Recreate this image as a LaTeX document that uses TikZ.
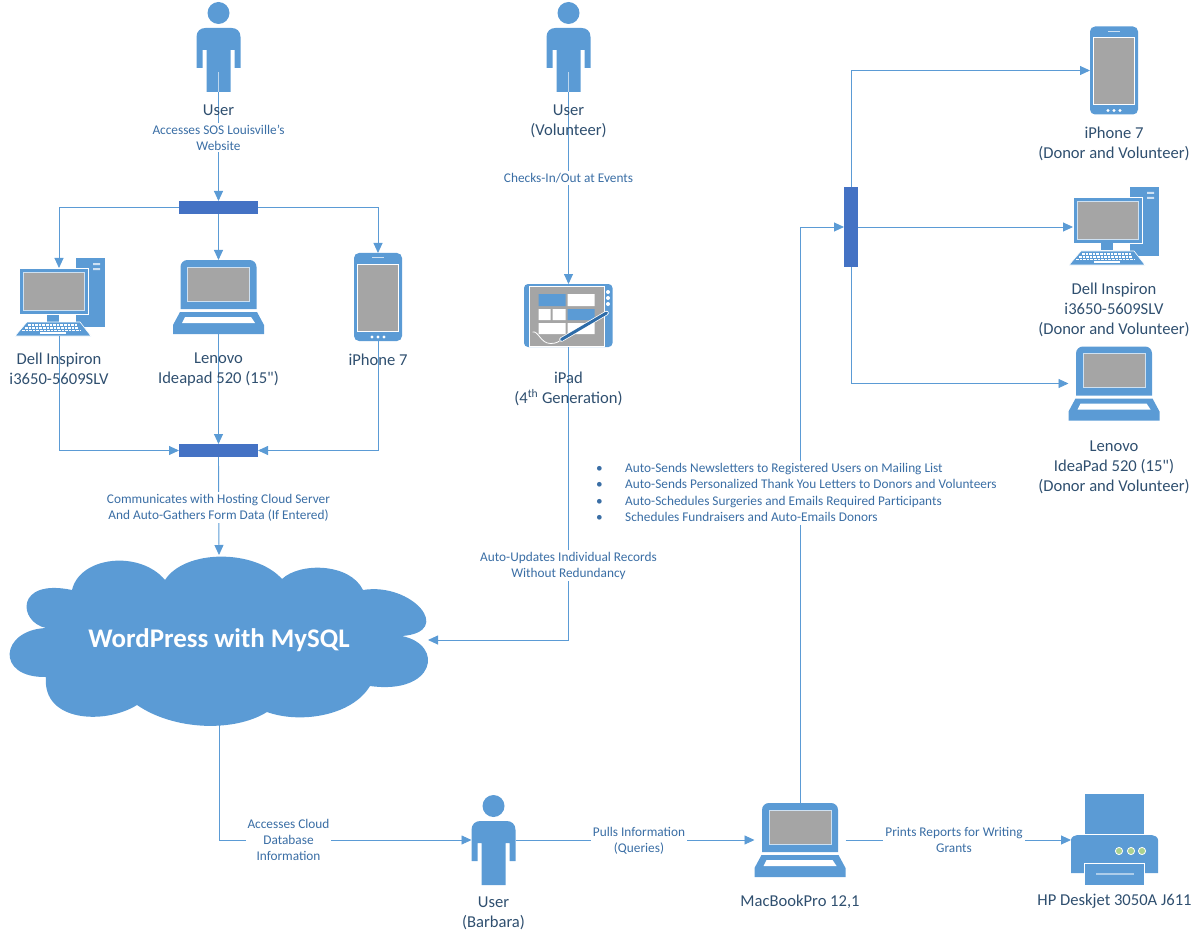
\documentclass[tikz,border=0pt]{standalone}
\usepackage{fontspec}
\setmainfont{Carlito}[Ligatures=TeXOff]
\usetikzlibrary{arrows.meta}

\definecolor{iconblue}{HTML}{5B9BD5}
\definecolor{barblue}{HTML}{4472C4}
\definecolor{screengrey}{HTML}{A5A5A5}
\definecolor{penblue}{HTML}{2E6CA8}
\definecolor{lampgreen}{HTML}{A9D18E}
\definecolor{namecol}{HTML}{2F4F6F}
\definecolor{notecol}{HTML}{3A6EA5}

\tikzset{
  flow/.style={draw=iconblue, line width=0.9pt, -{Triangle[length=10pt,width=9pt]}},
  legline/.style={draw=white!60!iconblue, line width=1pt},
  barnode/.style={fill=barblue, inner sep=0pt, outer sep=0pt},
  iconbox/.style={inner sep=0pt, outer sep=0pt},
  namelabel/.style={text=namecol, align=center, inner sep=0pt, font=\fontsize{16.6}{20}\selectfont},
  notelabel/.style={text=notecol, fill=white, align=center, inner sep=2pt, font=\fontsize{13.3}{16}\selectfont},
  pics/user/.style={code={
    \fill[iconblue] (0,-34) circle (11);
    \fill[iconblue] (-22,-10) .. controls (-22,-16) and (-18,-19) .. (-13,-19) -- (13,-19)
      .. controls (18,-19) and (22,-16) .. (22,-10) -- (22,21) -- (16,21) -- (16,3) -- (12,3)
      -- (12,45) -- (-12,45) -- (-12,3) -- (-16,3) -- (-16,21) -- (-22,21) -- cycle;
  }},
  pics/desktop/.style={code={
    \fill[iconblue] (17,-44) rectangle (46,25);
    \fill[white!70!iconblue] (34,-39) rectangle (41,-37) (34,-34) rectangle (41,-32);
    \filldraw[fill=iconblue, draw=white, line width=0.8pt] (-40,-34) rectangle (29,12);
    \filldraw[fill=screengrey, draw=white!70!iconblue, line width=0.8pt] (-36,-30) rectangle (25,8);
    \fill[iconblue] (-12,12.5) rectangle (0,19.5);
    \filldraw[fill=iconblue, draw=white, line width=0.6pt] (-32,20) -- (21,20) -- (32,34) -- (-44,34) -- cycle;
    \draw[white, line width=1.5pt, dash pattern=on 2.6pt off 1pt] (-31,23) -- (18,23) (-34,26) -- (20,26) (-37,28.5) -- (22,28.5);
    \fill[white] (-19,30) rectangle (6.5,32);
  }},
  pics/laptop/.style={code={
    \fill[iconblue] (-38,12) -- (-38,-30) .. controls (-38,-34) and (-35,-37) .. (-31,-37) -- (31,-37)
      .. controls (35,-37) and (38,-34) .. (38,-30) -- (38,12) -- cycle;
    \filldraw[fill=screengrey, draw=white!70!iconblue, line width=0.8pt] (-31,-30) rectangle (31,4);
    \fill[iconblue] (-38.5,15) -- (38.5,15) -- (45.5,28) -- (45.5,37) -- (-45.5,37) -- (-45.5,28) -- cycle;
    \fill[white] (-33.5,20) -- (32.5,20) -- (36.5,26) -- (-36.5,26) -- cycle;
  }},
  pics/phone/.style={code={
    \fill[iconblue, rounded corners=5pt] (-24,-44) rectangle (24,44);
    \filldraw[fill=screengrey, draw=white, line width=0.8pt] (-20.5,-33) rectangle (20.5,34);
    \draw[white!70!iconblue, line width=1pt] (-6,-39) -- (6,-39);
    \foreach \cx in {-6,0,6} {
      \fill[white] (\cx,40) circle (1.7);
    }
  }},
  pics/tablet/.style={code={
    \fill[iconblue, rounded corners=4pt] (-44.5,-31.5) rectangle (44,31.5);
    \filldraw[fill=screengrey, draw=white, line width=0.8pt] (-39,-29.5) rectangle (36,30.5);
    \fill[iconblue] (-30,-21.5) rectangle (-3,-9.5) (-1,-6.5) rectangle (26,4.5);
    \fill[white] (-1,-21.5) rectangle (26,-9.5)
      (-30,-6.5) rectangle (-18,4.5) (-16,-6.5) rectangle (-3,4.5)
      (-30,7.5) rectangle (-3,18.5) (-1,7.5) rectangle (26,18.5);
    \draw[white, line width=0.8pt] (-36,16.5) .. controls (-30,15) and (-28,28) .. (-18,28) .. controls (-12,28) and (-10,26) .. (-9,25.5);
    \draw[white, line width=4.5pt, line cap=round] (38,-2.5) -- (-7,24);
    \draw[penblue, line width=3pt, line cap=round] (38,-2.5) -- (-7,24);
    \foreach \cy in {-23.5,-17.5,-11.5} {
      \fill[white] (39.5,\cy) circle (2);
    }
  }},
  pics/printer/.style={code={
    \fill[iconblue] (-29.5,-46) rectangle (29.5,-6);
    \fill[iconblue] (-43.5,33) -- (-43.5,-0) .. controls (-43.5,-3) and (-40,-5) .. (-37,-5) -- (37,-5)
      .. controls (40,-5) and (43.5,-3) .. (43.5,0) -- (43.5,33) -- cycle;
    \filldraw[fill=iconblue, draw=white, line width=0.8pt] (-30.5,23) rectangle (29.5,45.5);
    \draw[white!50!iconblue, line width=1.2pt] (-18.5,34) -- (19.5,34);
    \foreach \cx in {4.5,16.5,27.5} {
      \filldraw[fill=lampgreen, draw=white, line width=0.8pt] (\cx,11) circle (3.6);
    }
  }}
}

\begin{document}
\begin{tikzpicture}[x=1pt, y=-1pt]

  \useasboundingbox (0,0) rectangle (1201,941);

  %%-- CLOUD OUTLINE --%%
  \fill[iconblue] (72,590) .. controls (80,556) and (140,550) .. (165,580)
    .. controls (185,549) and (255,549) .. (282,579)
    .. controls (300,562) and (350,563) .. (363,590)
    .. controls (412,582) and (455,632) .. (402,636)
    .. controls (445,645) and (435,695) .. (370,686)
    .. controls (352,716) and (300,724) .. (267,712)
    .. controls (235,732) and (175,731) .. (137,705)
    .. controls (105,725) and (42,722) .. (46,677)
    .. controls (-5,678) and (0,630) .. (46,628)
    .. controls (18,622) and (15,578) .. (72,590) -- cycle;
  \node[inner sep=0pt, outer sep=0pt, minimum width=418pt, minimum height=170pt, text=white,
    font=\fontsize{26.9}{30}\selectfont\bfseries] (cloud) at (219,640) {\raisebox{-2pt}{WordPress with MySQL}};

  %%-- DISTRIBUTION BARS --%%
  \node[barnode, minimum width=79pt, minimum height=13pt] (bartop) at (218.5,207.5) {};
  \node[barnode, minimum width=79pt, minimum height=13pt] (barlow) at (218.5,450.5) {};
  \node[barnode, minimum width=14pt, minimum height=80pt] (barright) at (851,227) {};

  %%-- ICON BOXES (pics go on top of them) --%%
  \node[iconbox, minimum width=44pt, minimum height=90pt] (user1) at (218.5,47) {};
  \node[iconbox, minimum width=44pt, minimum height=90pt] (user2) at (568.5,47) {};
  \node[iconbox, minimum width=44pt, minimum height=90pt] (user3) at (493.5,840) {};
  \node[iconbox, minimum width=80pt, minimum height=68pt] (desk1) at (59,302) {};
  \node[iconbox, minimum width=80pt, minimum height=68pt] (desk2) at (1113,231) {};
  \node[iconbox, minimum width=91pt, minimum height=74pt] (lap1) at (218.5,297) {};
  \node[iconbox, minimum width=91pt, minimum height=74pt] (lap2) at (1114,383.5) {};
  \node[iconbox, minimum width=91pt, minimum height=74pt] (mac) at (800,840) {};
  \node[iconbox, minimum width=48pt, minimum height=88pt] (phone1) at (378,297) {};
  \node[iconbox, minimum width=48pt, minimum height=88pt] (phone2) at (1114,70.5) {};
  \node[iconbox, minimum width=88pt, minimum height=63pt] (ipad) at (568.5,315.5) {};
  \node[iconbox, minimum width=87pt, minimum height=90pt] (printer) at (1114.5,840) {};

  \pic at (user1) {user};
  \pic at (user2) {user};
  \pic at (user3) {user};
  \pic at (desk1) {desktop};
  \pic at (desk2) {desktop};
  \pic at (lap1) {laptop};
  \pic at (lap2) {laptop};
  \pic at (mac) {laptop};
  \pic at (phone1) {phone};
  \pic at (phone2) {phone};
  \pic at (ipad) {tablet};
  \pic at (printer) {printer};

  %%-- CONNECTORS --%%
  \coordinate (foot1) at (218.5,72);
  \coordinate (foot2) at (568.5,72);
  \draw[legline] (foot1) -- (user1.south);
  \draw[legline] (foot2) -- (user2.south);
  \draw[flow] (user1.south) -- (bartop.north);
  \draw[flow] (user2.south) -- (ipad.north);

  \draw[flow] (bartop.west) -| (desk1.north);
  \draw[flow] (bartop.south) -- (lap1.north);
  \draw[flow] (bartop.east) -| (phone1.north);

  \draw[flow] (desk1.south) |- (barlow.west);
  \draw[flow] (lap1.south) -- (barlow.north);
  \draw[flow] (phone1.south) |- (barlow.east);

  \draw[flow] (barlow.south) -- (cloud.north);
  \draw[flow] (ipad.south) |- (cloud.east);
  \draw[flow] (cloud.south) |- (user3.west);
  \draw[flow] (user3.east) -- (mac.west);
  \draw[flow] (mac.east) -- (printer.west);
  \draw[flow] (mac.north) |- (barright.west);

  \draw[flow] (barright.north) |- (phone2.west);
  \draw[flow] (barright.east) -- (barright.east -| desk2.west);
  \draw[flow] (barright.south) |- (lap2.west);

  %%-- NAME LABELS --%%
  \node[namelabel] (nuser1) at (218.5,110.5) {User};
  \node[namelabel] (nuser2) at (568.5,121.5) {User\\(Volunteer)};
  \node[namelabel] (nuser3) at (493.5,913) {User\\(Barbara)};
  \node[namelabel] (ndesk1) at (59,369) {Dell Inspiron\\i3650-5609SLV};
  \node[namelabel] (nlap1) at (218.5,370) {Lenovo\\Ideapad 520 (15")};
  \node[namelabel] (nphone1) at (378,359.5) {iPhone 7};
  \node[namelabel] (nipad) at (568.5,389) {iPad\\(4\textsuperscript{th} Generation)};
  \node[namelabel] (nphone2) at (1114,144) {iPhone 7\\(Donor and Volunteer)};
  \node[namelabel] (ndesk2) at (1114,310) {Dell Inspiron\\i3650-5609SLV\\(Donor and Volunteer)};
  \node[namelabel] (nlap2) at (1114,467) {Lenovo\\IdeaPad 520 (15")\\(Donor and Volunteer)};
  \node[namelabel] (nmac) at (800,901.5) {MacBookPro 12,1};
  \node[namelabel] (nprinter) at (1114.5,901.5) {HP Deskjet 3050A J611};

  %%-- CONNECTOR NOTES --%%
  \node[notelabel] (naccess) at (218.5,137.5) {Accesses SOS Louisville’s\\Website};
  \node[notelabel] (ncheck) at (568.5,178) {Checks-In/Out at Events};
  \node[notelabel] (nhost) at (218.5,507.5) {Communicates with Hosting Cloud Server\\And Auto-Gathers Form Data (If Entered)};
  \node[notelabel] (nupdate) at (568.5,565.5) {Auto-Updates Individual Records\\Without Redundancy};
  \node[notelabel] (nquery) at (288.5,840) {Accesses Cloud\\Database\\Information};
  \node[notelabel] (npull) at (639,840.5) {Pulls Information\\(Queries)};
  \node[notelabel] (nprint) at (954,840) {Prints Reports for Writing\\Grants};

  %% bullet list on top of the line from the MacBook
  \node[notelabel, anchor=west, align=left, inner sep=0pt, minimum height=64pt, font=\fontsize{13.3}{16.6}\selectfont] (nlist) at (596,492.5) {%
    \makebox[29pt][l]{\textbullet}Auto-Sends Newsletters to Registered Users on Mailing List\\
    \makebox[29pt][l]{\textbullet}Auto-Sends Personalized Thank You Letters to Donors and Volunteers\\
    \makebox[29pt][l]{\textbullet}Auto-Schedules Surgeries and Emails Required Participants\\
    \makebox[29pt][l]{\textbullet}Schedules Fundraisers and Auto-Emails Donors};

\end{tikzpicture}
\end{document}
